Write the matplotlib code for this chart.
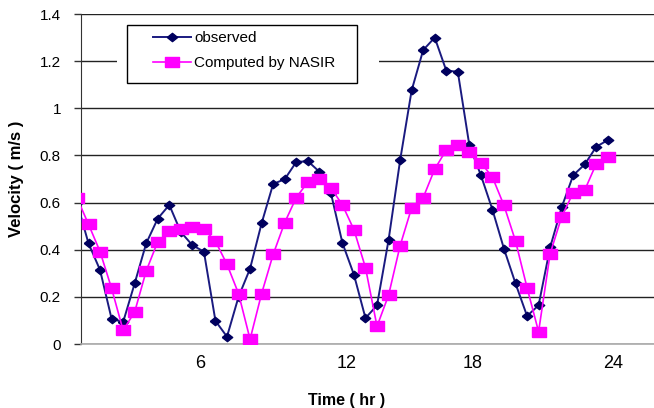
import numpy as np
import matplotlib.pyplot as plt
from matplotlib.patches import Rectangle

# velocity readings, one every half hour
observed = [0.60, 0.427, 0.314, 0.107, 0.093, 0.257, 0.427, 0.532, 0.59, 0.475,
            0.419, 0.392, 0.098, 0.031, 0.20, 0.32, 0.512, 0.679, 0.699, 0.772,
            0.776, 0.731, 0.641, 0.429, 0.294, 0.11, 0.164, 0.441, 0.779, 1.076,
            1.247, 1.30, 1.16, 1.155, 0.843, 0.716, 0.57, 0.404, 0.257, 0.119,
            0.164, 0.41, 0.58, 0.716, 0.762, 0.837, 0.865]
computed = [0.62, 0.508, 0.392, 0.236, 0.058, 0.136, 0.31, 0.434, 0.479, 0.489,
            0.498, 0.487, 0.436, 0.338, 0.214, 0.02, 0.214, 0.38, 0.515, 0.621,
            0.687, 0.699, 0.663, 0.59, 0.485, 0.324, 0.075, 0.207, 0.417, 0.578,
            0.621, 0.742, 0.823, 0.844, 0.815, 0.769, 0.708, 0.588, 0.437, 0.239,
            0.052, 0.383, 0.54, 0.642, 0.653, 0.765, 0.795]
tick_pos = [10.7, 23.4, 34.3, 46.5]
tick_labels = ['6', '12', '18', '24']
y_ticks = [0, 0.2, 0.4, 0.6, 0.8, 1.0, 1.2, 1.4]
y_labels = ['0', '0.2', '0.4', '0.6', '0.8', '1', '1.2', '1.4']

plt.rcParams['font.family'] = ['Liberation Sans', 'DejaVu Sans']

W, H = 654, 408
fig = plt.figure(figsize=(W / 100, H / 100), dpi=100)
ax = fig.add_axes([81 / W, 64 / H, 573 / W, 330 / H])

x = np.arange(len(observed))
diamond = [(-1.25, 0), (0, 1), (1.25, 0), (0, -1), (-1.25, 0)]
box = [(-1.4, -1), (1.4, -1), (1.4, 1), (-1.4, 1), (-1.4, -1)]

ax.plot(x, observed, color='#1a1a80', lw=1.4, marker=diamond, ms=7.5,
        mfc='#00005e', mec='#00005e', label='observed', zorder=3)
ax.plot(x, computed, color='#ff00ff', lw=1.2, marker=box, ms=10,
        mfc='#ff00ff', mec='#ff00ff', label='Computed by NASIR', zorder=4)

ax.set_xlim(0.35, 50)
ax.set_ylim(0, 1.4)
ax.set_yticks(y_ticks)
ax.set_yticklabels(y_labels, fontsize=11)
ax.set_xticks(tick_pos)
ax.set_xticklabels(tick_labels, fontsize=13)
ax.tick_params(axis='x', length=0, pad=8)
ax.tick_params(axis='y', length=5, width=1, color='#333333', pad=9.4)
ax.yaxis.grid(True, color='#222222', lw=1)
ax.set_axisbelow(True)

for s in ['top', 'right']:
    ax.spines[s].set_visible(False)
ax.spines['left'].set_color('#333333')
ax.spines['bottom'].set_color('#aaaaaa')
ax.spines['bottom'].set_linewidth(1.2)

ax.set_ylabel('Velocity ( m/s )', fontsize=12, fontweight='bold', va='center')
ax.set_xlabel('Time ( hr )', fontsize=11.5, fontweight='bold', va='center')
ax.yaxis.set_label_coords((16.5 - 81) / 573, 0.5)
ax.xaxis.set_label_coords((347 - 81) / 573, (344 - 400) / 330)

# white gap in the grid around the legend, then the legend frame
def ax_box(x0, y0, x1, y1, **kw):
    return Rectangle(((x0 - 81) / 573, (344 - y1) / 330), (x1 - x0) / 573,
                     (y1 - y0) / 330, transform=ax.transAxes, **kw)

ax.add_patch(ax_box(117, 20, 379, 88, facecolor='white', edgecolor='none', zorder=5))
ax.add_patch(ax_box(127, 25, 357, 83, facecolor='white', edgecolor='black', lw=1, zorder=6))

leg = ax.legend(loc='upper left', bbox_to_anchor=((153 - 81) / 573, (344 - 31) / 330),
                frameon=False, borderpad=0, borderaxespad=0, fontsize=11,
                handlelength=2.5, handletextpad=0.2, labelspacing=0.75)
leg.set_zorder(7)

fig.savefig('out.png', dpi=100)
